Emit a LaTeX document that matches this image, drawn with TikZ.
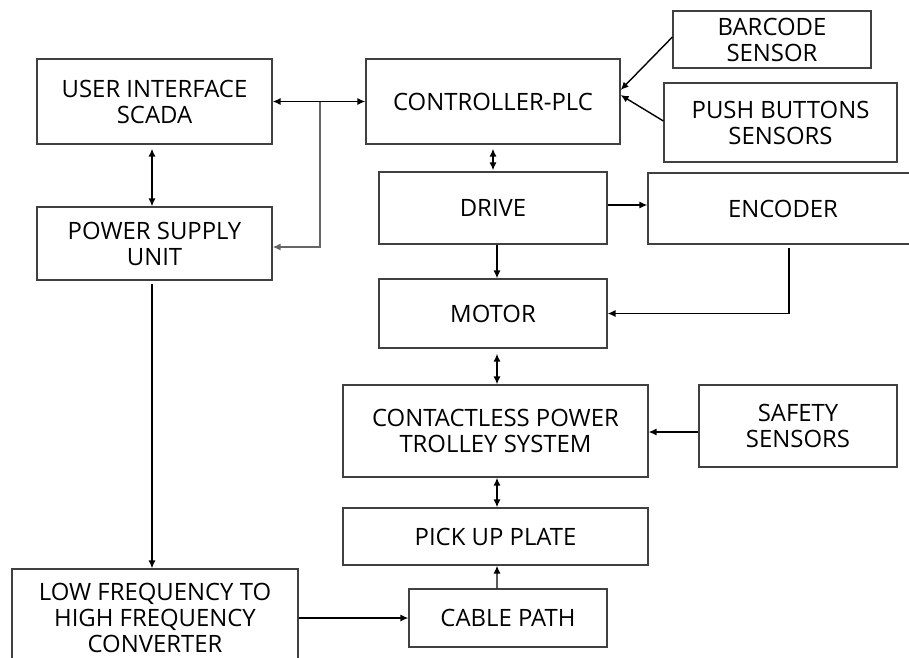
\documentclass[tikz,border=0pt]{standalone}
\usepackage{fontspec}
\setmainfont{Open Sans}
\usetikzlibrary{arrows.meta}
\begin{document}
\begin{tikzpicture}[x=0.02cm,y=-0.02cm,
	blk/.style={draw=black!75,line width=0.7pt,align=center,inner sep=0pt,font=\fontsize{13.6}{14.8}\selectfont},
	con/.style={line width=0.8pt,-{Latex[length=4.5pt,width=4pt]}},
	both/.style={line width=1.1pt,{Latex[length=4.5pt,width=4pt]}-{Latex[length=4.5pt,width=4pt]}}]
	\useasboundingbox (0,0) rectangle (909,657);
	\node[blk,minimum width=235*0.02cm,minimum height=85*0.02cm] (ui) at (154.5,101.5) {USER INTERFACE\\SCADA};
	\node[blk,minimum width=235*0.02cm,minimum height=73*0.02cm] (psu) at (154.5,243.5) {POWER SUPPLY\\UNIT};
	\node[blk,minimum width=254*0.02cm,minimum height=85*0.02cm] (plc) at (493,101.5) {CONTROLLER-PLC};
	\node[blk,minimum width=198*0.02cm,minimum height=57*0.02cm] (barcode) at (772,39.5) {BARCODE\\SENSOR};
	\node[blk,minimum width=233*0.02cm,minimum height=79*0.02cm] (push) at (780.5,122.5) {PUSH BUTTONS\\SENSORS};
	\node[blk,minimum width=228*0.02cm,minimum height=72*0.02cm] (drive) at (493,208) {DRIVE};
	\node[blk,minimum width=270*0.02cm,minimum height=71*0.02cm] (enc) at (783,208.5) {ENCODER};
	\node[blk,minimum width=228*0.02cm,minimum height=69*0.02cm] (motor) at (493,313.5) {MOTOR};
	\node[blk,minimum width=305*0.02cm,minimum height=92*0.02cm] (cpts) at (495.5,431) {CONTACTLESS POWER\\TROLLEY SYSTEM};
	\node[blk,minimum width=198*0.02cm,minimum height=82*0.02cm] (safety) at (798,426) {SAFETY\\SENSORS};
	\node[blk,minimum width=305*0.02cm,minimum height=57*0.02cm] (pickup) at (495.5,536.5) {PICK UP PLATE};
	\node[blk,minimum width=198*0.02cm,minimum height=58*0.02cm] (cable) at (508,618) {CABLE PATH};
	\node[blk,minimum width=286*0.02cm,minimum height=98*0.02cm] (conv) at (155,618) {LOW FREQUENCY TO\\HIGH FREQUENCY\\CONVERTER};
	% left column
	\draw[both] ([shift={(-2.5,4)}]ui.south) -- ([xshift=-2.5*0.02cm]psu.north);
	\draw[both] (ui.east) -- (plc.west);
	\coordinate (split) at (320,101.5);
	\draw[con,black!60] (split) |- ([yshift=-3.5*0.02cm]psu.east);
	\draw[con,line width=1.1pt] ([shift={(-2.5,3)}]psu.south) -- ([xshift=-3*0.02cm]conv.north);
	\draw[con] (conv.east) -- (cable.west);
	% sensors into the plc
	\draw[con] ([yshift=2.5*0.02cm]barcode.west) -- ([yshift=11.5*0.02cm]plc.east);
	\draw[con] ([yshift=1.5*0.02cm]push.west) -- ([yshift=6.5*0.02cm]plc.east);
	% centre column
	\draw[both] ([shift={(0,4)}]plc.south) -- ([yshift=1*0.02cm]drive.north);
	\draw[con] ([yshift=3*0.02cm]drive.east) -- ([yshift=3.5*0.02cm]enc.west);
	\draw[con] ([xshift=4*0.02cm]drive.south) -- ([xshift=4*0.02cm]motor.north);
	\draw[con] ([shift={(6,3)}]enc.south) |- (motor.east);
	\draw[both] ([shift={(4,5)}]motor.south) -- ([xshift=1.5*0.02cm]cpts.north);
	\draw[con] ([yshift=-6*0.02cm]safety.west) -- ([yshift=-1*0.02cm]cpts.east);
	\draw[both] ([xshift=1.5*0.02cm]cpts.south) -- ([xshift=1.5*0.02cm]pickup.north);
	\draw[con] ([xshift=-11*0.02cm]cable.north) -- ([xshift=1.5*0.02cm]pickup.south);
\end{tikzpicture}
\end{document}
